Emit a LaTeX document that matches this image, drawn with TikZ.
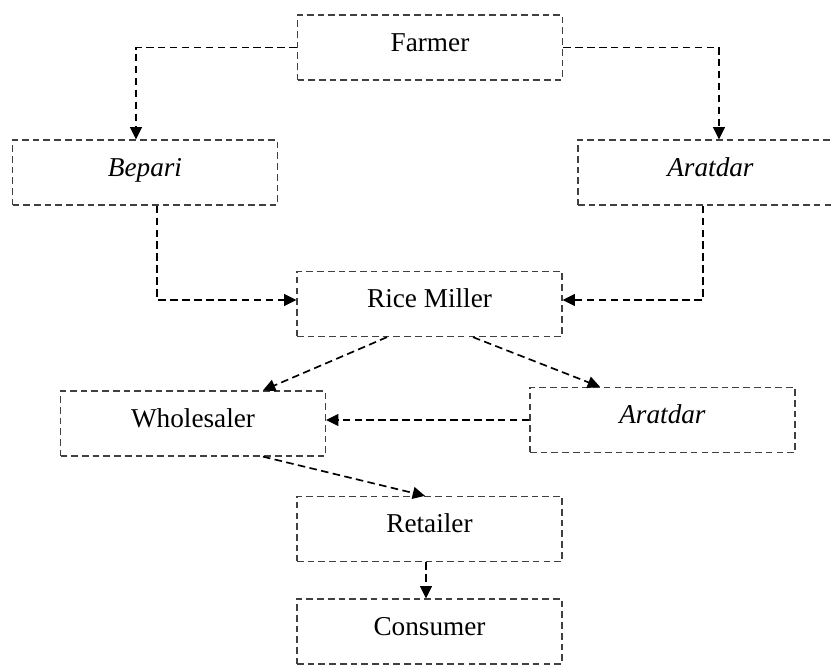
\documentclass[tikz,border=0pt]{standalone}
\usepackage{fontspec}
\setmainfont{Liberation Serif}
\usetikzlibrary{arrows.meta,calc}
\begin{document}
\begin{tikzpicture}[x=0.02cm,y=-0.02cm]
    \tikzset{stage/.style={rectangle, draw=black!75, line width=0.75pt, dash pattern=on 3.8pt off 2.3pt,
        minimum width=5.3cm, minimum height=1.3cm, inner sep=0pt, text height=12pt, text depth=8pt,
        font=\fontsize{15.5}{18}\selectfont}}
    \tikzset{flow/.style={draw=black, line width=0.95pt, dash pattern=on 4.3pt off 2.5pt,
        -{Triangle[length=7pt, width=6.8pt]}}}
    \useasboundingbox (0,0) rectangle (833,666);

    \node[stage] (farmer) at (430,47.5) {Farmer};
    \node[stage] (bepari) at (145,172.5) {\textit{Bepari}};
    \node[stage] (aratA) at (710.5,172.5) {\textit{Aratdar}};
    \node[stage] (miller) at (429.5,304) {Rice Miller};
    \node[stage] (wholesaler) at (193,423.5) {Wholesaler};
    \node[stage] (aratB) at (662.5,420) {\textit{Aratdar}};
    \node[stage] (retailer) at (429.5,529) {Retailer};
    \node[stage] (consumer) at (429.5,631.5) {Consumer};

    \draw[flow] (farmer.west) -| ($(bepari.north)+(-9,0)$);
    \draw[flow] (farmer.east) -| ($(aratA.north)+(8.5,0)$);
    \draw[flow] ($(bepari.south)+(12,0)$) |- ($(miller.west)+(0,-4)$);
    \draw[flow] ($(aratA.south)+(-7.5,0)$) |- ($(miller.east)+(0,-4)$);
    \draw[flow] ($(miller.south)+(-42.5,0)$) -- ($(wholesaler.north)+(70,0)$);
    \draw[flow] ($(miller.south)+(43.5,0)$) -- ($(aratB.north)+(-62.5,0)$);
    \draw[flow] (aratB.west) -- ($(wholesaler.east)+(0,-3.5)$);
    \draw[flow] ($(wholesaler.south)+(70,0)$) -- ($(retailer.north)+(-4.5,0)$);
    \draw[flow] ($(retailer.south)+(-3.5,0)$) -- ($(consumer.north)+(-3.5,0)$);
\end{tikzpicture}
\end{document}
